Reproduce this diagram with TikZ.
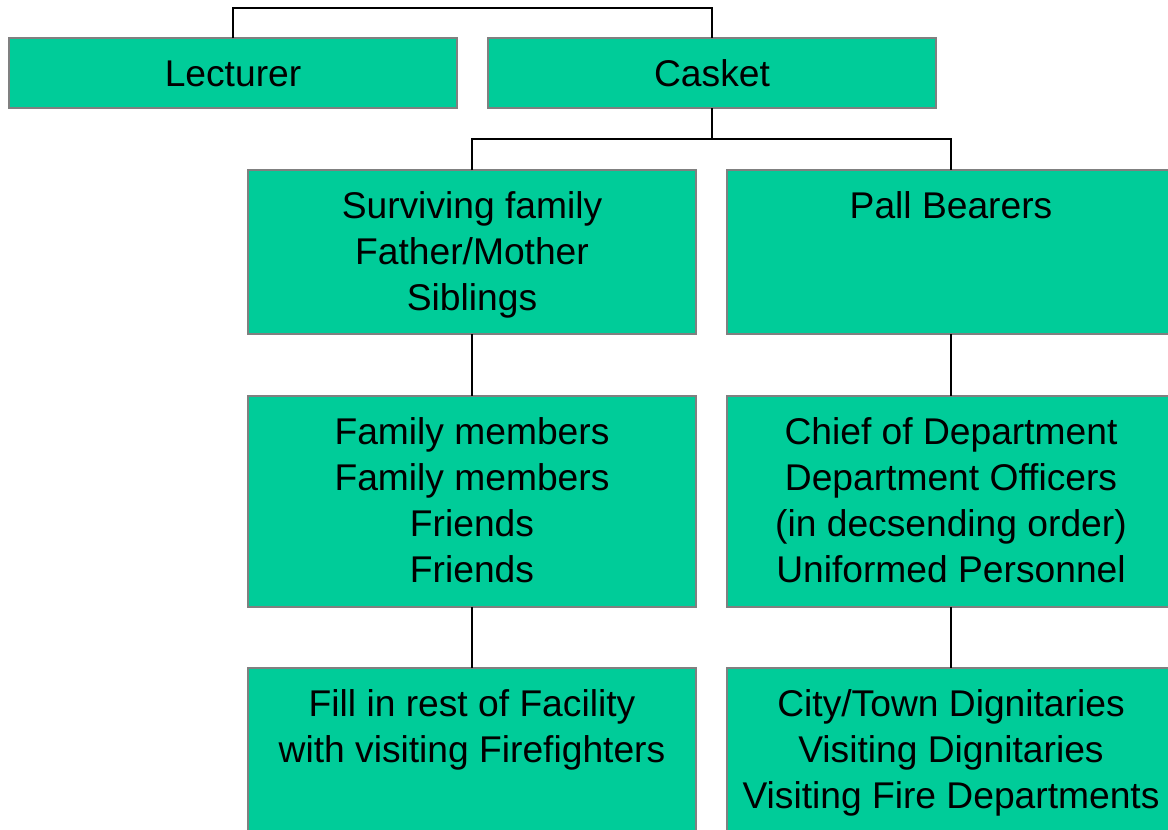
\documentclass[tikz,border=0pt]{standalone}
\usepackage{fontspec}
\setmainfont{Liberation Sans}
\definecolor{unitgreen}{RGB}{0,204,153}
\definecolor{unitgray}{RGB}{128,128,128}
\newcommand{\unittext}[2]{\parbox[c][#1pt][t]{448pt}{\centering\rule{0pt}{48pt}#2}}
\tikzset{
    unit/.style = {
        shape=rectangle,
        draw=unitgray,
        fill=unitgreen,
        line width=2.5pt,
        inner sep=0pt,
        outer sep=0pt,
        anchor=north west,
        font=\fontsize{37.2}{46}\selectfont},
    link/.style = {
        draw,
        line width=2pt}
}
\begin{document}
\begin{tikzpicture}[
    x = 1pt,
    y = -1pt
]

\clip (0,0) rectangle (1168,830);

\node [unit] (lect)   at (9,38)    {\unittext{70}{Lecturer}};
\node [unit] (casket) at (488,38)  {\unittext{70}{Casket}};
\node [unit] (surv)   at (248,170) {\unittext{164}{Surviving family\\Father/Mother\\Siblings}};
\node [unit] (pall)   at (727,170) {\unittext{164}{Pall Bearers}};
\node [unit] (fam)    at (248,396) {\unittext{211}{Family members\\Family members\\Friends\\Friends}};
\node [unit] (chief)  at (727,396) {\unittext{211}{Chief of Department\\Department Officers\\(in decsending order)\\Uniformed Personnel}};
\node [unit] (fill)   at (248,668) {\unittext{211}{Fill in rest of Facility\\with visiting Firefighters}};
\node [unit] (city)   at (727,668) {\unittext{211}{City/Town Dignitaries\\Visiting Dignitaries\\Visiting Fire Departments}};

\coordinate (split) at (casket.south |- 0,139);

\draw [link] (lect.north) -- ++(0,-30) -| (casket.north);
\draw [link] (casket.south) -- (split);
\draw [link] (surv.north) |- (split) -| (pall.north);
\draw [link] (surv.south) -- (fam.north);
\draw [link] (fam.south) -- (fill.north);
\draw [link] (pall.south) -- (chief.north);
\draw [link] (chief.south) -- (city.north);

\end{tikzpicture}
\end{document}
